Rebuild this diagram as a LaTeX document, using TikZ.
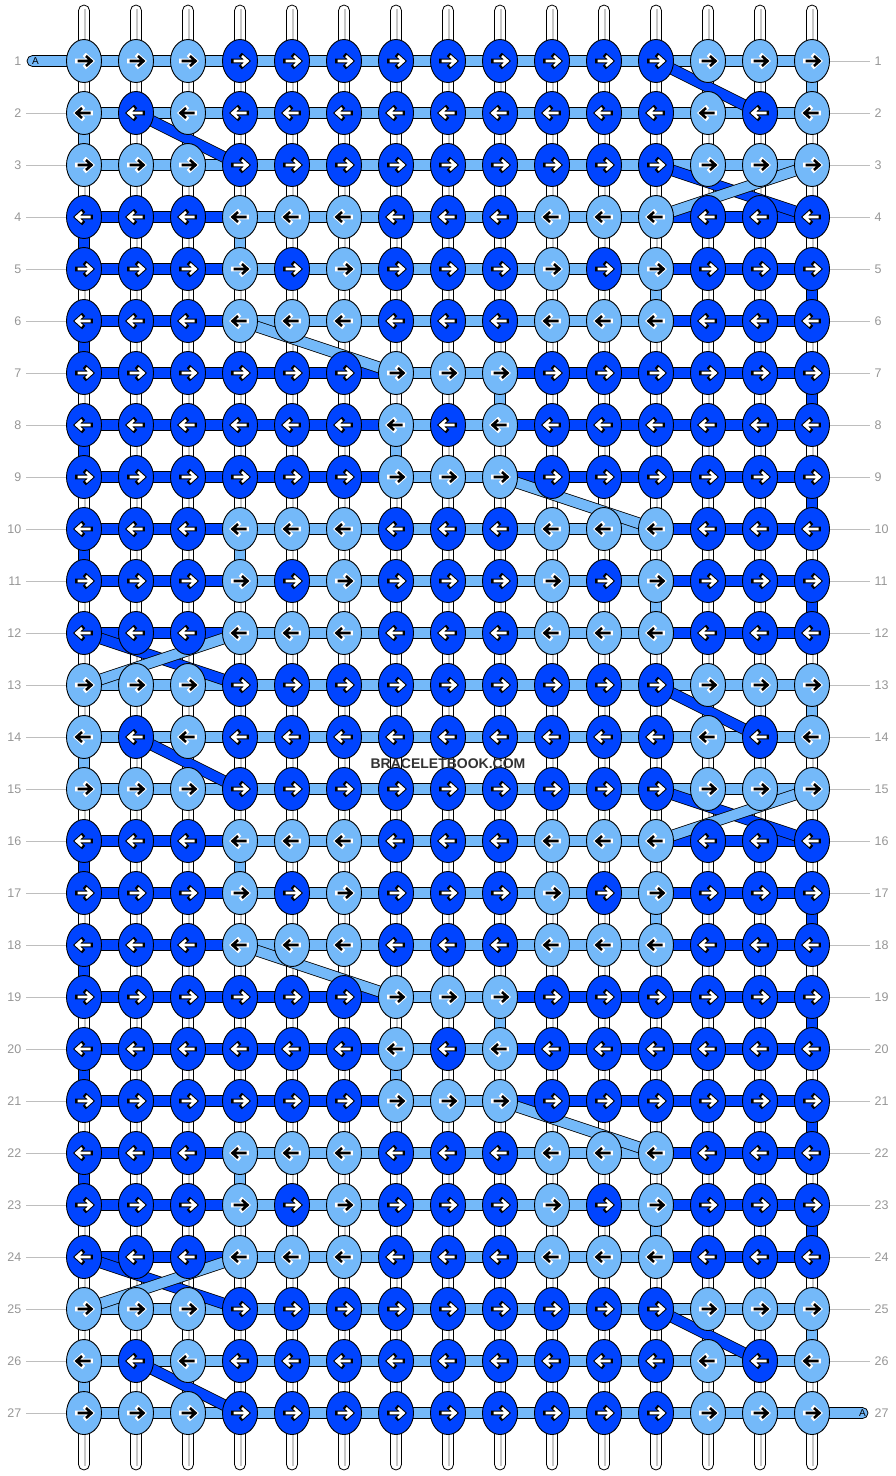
\documentclass[tikz,border=0pt]{standalone}
\usepackage{fontspec}
\setmainfont{Liberation Sans}
\usepackage{xstring}
\usetikzlibrary{shapes.geometric}
\definecolor{lb}{RGB}{116,185,249}
\definecolor{db}{RGB}{0,68,255}
\definecolor{lbltext}{RGB}{150,150,150}
\definecolor{guidec}{RGB}{190,190,190}
\tikzset{
  knotL/.style={ellipse, draw=black, line width=0.9pt, fill=lb, minimum width=35pt, minimum height=43pt, inner sep=0pt},
  knotD/.style={ellipse, draw=black, line width=0.9pt, fill=db, minimum width=35pt, minimum height=43pt, inner sep=0pt},
  lbar/.style={draw=black, line width=0.8pt, double=lb, double distance=10pt},
  dbar/.style={draw=black, line width=0.8pt, double=db, double distance=10pt},
  basestring/.style={draw=black, line width=0.8pt, fill=white, rounded corners=5.5pt, minimum width=11pt, minimum height=1465pt, inner sep=0pt},
  rowlbl/.style={text=lbltext, font=\fontsize{12.5}{14}\selectfont, inner sep=0pt},
  guide/.style={draw=guidec, line width=1pt},
  stub/.style={draw=black, line width=0.8pt, fill=lb, rounded corners=5.5pt}
}
\newcommand\karrow[4]{%
  \begin{scope}[shift={(#1)},xscale=#2]
    \draw[#4, line width=4.6pt, line cap=rect] (-6.5,0) -- (6.5,0) (2,-5) -- (7.5,0) -- (2,5);
    \draw[#3, line width=2.6pt] (-6.5,0) -- (6.5,0) (2,-5) -- (7.5,0) -- (2,5);
  \end{scope}}
\begin{document}
\begin{tikzpicture}[x=1pt,y=-1pt]
\useasboundingbox (0,0) rectangle (896,1476);
% positions
\foreach \r in {1,...,27}{
  \foreach \c in {1,...,15}{
    \coordinate (p-\r-\c) at ({84+52*(\c-1)},{61+52*(\r-1)});
  }
}
% base strings
\foreach \c in {1,...,15}{
  \node[basestring] (s-\c) at ({84+52*(\c-1)},737.5) {};
  \draw[black!22, line width=1.6pt] ([xshift=1pt,yshift=-4pt]s-\c.north) -- ([xshift=1pt,yshift=4pt]s-\c.south);
}
% row labels and guide lines
\foreach \r in {1,...,27}{
  \node[rowlbl, anchor=east] (ll-\r) at (21.5,{61+52*(\r-1)}) {\r};
  \node[rowlbl, anchor=west] (rl-\r) at (874.5,{61+52*(\r-1)}) {\r};
}
\foreach \r in {2,...,27}{ \draw[guide] ([xshift=4.5pt]ll-\r.east) -- (p-\r-1); }
\foreach \r in {1,...,26}{ \draw[guide] (p-\r-15) -- ([xshift=-5pt]rl-\r.west); }
% end stubs
\coordinate (s1a) at (27,55.5);
\coordinate (s1b) at (90,66.5);
\draw[stub] (s1a) rectangle (s1b);
\node[inner sep=0pt, font=\fontsize{10}{12}\selectfont] (sa) at (35.5,61) {A};
\coordinate (e27a) at (806,1407.5);
\coordinate (e27b) at (868,1418.5);
\draw[stub] (e27a) rectangle (e27b);
\node[inner sep=0pt, font=\fontsize{10}{12}\selectfont] (ea) at (862.5,1413) {A};
% vertical colored segments between rows
\foreach \r/\c in {1/15,2/1,4/4,5/12,7/9,8/7,10/4,11/12,13/15,14/1,16/4,17/12,19/9,20/7,22/4,23/12,25/15,26/1}{
  \pgfmathtruncatemacro\rn{\r+1}
  \draw[lbar] (p-\r-\c) -- (p-\rn-\c);
}
\foreach \r/\c in {4/1,5/15,6/1,7/15,8/1,9/15,10/1,11/15,16/1,17/15,18/1,19/15,20/1,21/15,22/1,23/15}{
  \pgfmathtruncatemacro\rn{\r+1}
  \draw[dbar] (p-\r-\c) -- (p-\rn-\c);
}
% horizontal bars
\foreach \r/\seg in {1/LLLLLLLLLLLLLL,2/LLLLLLLLLLLLLL,3/LLLLLLLLLLLLLL,
  4/DDDLLLLLLLLDDD,5/DDDLLLLLLLLDDD,6/DDDLLLLLLLLDDD,
  7/DDDDDDLLDDDDDD,8/DDDDDDLLDDDDDD,9/DDDDDDLLDDDDDD,
  10/DDDLLLLLLLLDDD,11/DDDLLLLLLLLDDD,12/DDDLLLLLLLLDDD,
  13/LLLLLLLLLLLLLL,14/LLLLLLLLLLLLLL,15/LLLLLLLLLLLLLL,
  16/DDDLLLLLLLLDDD,17/DDDLLLLLLLLDDD,18/DDDLLLLLLLLDDD,
  19/DDDDDDLLDDDDDD,20/DDDDDDLLDDDDDD,21/DDDDDDLLDDDDDD,
  22/DDDLLLLLLLLDDD,23/DDDLLLLLLLLDDD,24/DDDLLLLLLLLDDD,
  25/LLLLLLLLLLLLLL,26/LLLLLLLLLLLLLL,27/LLLLLLLLLLLLLL}{
  \foreach \c in {1,...,14}{
    \pgfmathtruncatemacro\cn{\c+1}
    \StrChar{\seg}{\c}[\sc]
    \if\sc L\relax
      \draw[lbar] (p-\r-\c) -- (p-\r-\cn);
    \else
      \draw[dbar] (p-\r-\c) -- (p-\r-\cn);
    \fi
  }
}
% diagonal strings
\foreach \ra/\ca/\rb/\cb in {1/12/2/14,2/2/3/4,3/12/4/15,12/1/13/4,13/12/14/14,14/2/15/4,15/12/16/15,24/1/25/4,25/12/26/14,26/2/27/4}{
  \draw[dbar] (p-\ra-\ca) -- (p-\rb-\cb);
}
\foreach \ra/\ca/\rb/\cb in {3/15/4/12,6/4/7/7,9/9/10/12,12/4/13/1,15/15/16/12,18/4/19/7,21/9/22/12,24/4/25/1}{
  \draw[lbar] (p-\ra-\ca) -- (p-\rb-\cb);
}
% knots
\foreach \r/\pat in {1/LLLDDDDDDDDDLLL,2/LDLDDDDDDDDDLDL,3/LLLDDDDDDDDDLLL,
  4/DDDLLLDDDLLLDDD,5/DDDLDLDDDLDLDDD,6/DDDLLLDDDLLLDDD,
  7/DDDDDDLLLDDDDDD,8/DDDDDDLDLDDDDDD,9/DDDDDDLLLDDDDDD,
  10/DDDLLLDDDLLLDDD,11/DDDLDLDDDLDLDDD,12/DDDLLLDDDLLLDDD,
  13/LLLDDDDDDDDDLLL,14/LDLDDDDDDDDDLDL,15/LLLDDDDDDDDDLLL,
  16/DDDLLLDDDLLLDDD,17/DDDLDLDDDLDLDDD,18/DDDLLLDDDLLLDDD,
  19/DDDDDDLLLDDDDDD,20/DDDDDDLDLDDDDDD,21/DDDDDDLLLDDDDDD,
  22/DDDLLLDDDLLLDDD,23/DDDLDLDDDLDLDDD,24/DDDLLLDDDLLLDDD,
  25/LLLDDDDDDDDDLLL,26/LDLDDDDDDDDDLDL,27/LLLDDDDDDDDDLLL}{
  \foreach \c in {1,...,15}{
    \StrChar{\pat}{\c}[\kc]
    \ifodd\r \def\dir{1}\else \def\dir{-1}\fi
    \if\kc L\relax
      \node[knotL] (k-\r-\c) at (p-\r-\c) {};
      \karrow{p-\r-\c}{\dir}{black}{white}
    \else
      \node[knotD] (k-\r-\c) at (p-\r-\c) {};
      \karrow{p-\r-\c}{\dir}{white}{black}
    \fi
  }
}
% watermark
\node[inner sep=0pt, text=black!80, font=\bfseries\fontsize{14}{16}\selectfont] (wm) at (448,763.5) {BRACELETBOOK.COM};
\end{tikzpicture}
\end{document}
